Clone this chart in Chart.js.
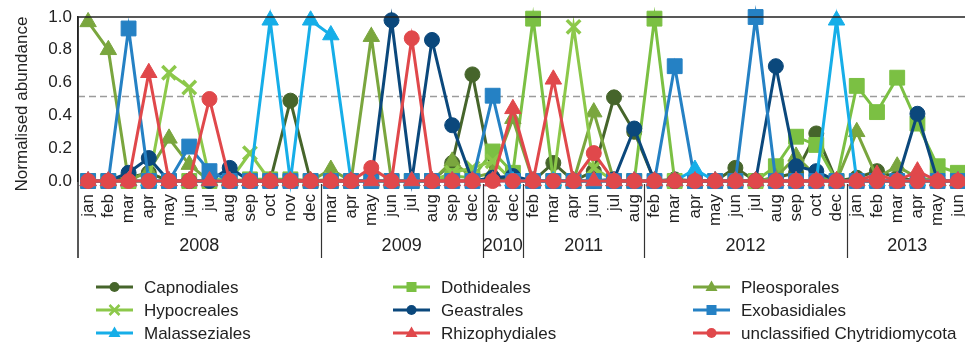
<!DOCTYPE html>
<html>
<head>
<meta charset="utf-8">
<script src="https://cdn.jsdelivr.net/npm/chart.js@4/dist/chart.umd.min.js"></script>
<style>
  html, body { margin: 0; padding: 0; background: #fff; overflow: hidden; }
  #wrap { width: 981px; height: 343px; }
</style>
</head>
<body>
<div id="wrap"><canvas id="c" width="981" height="343"></canvas></div>
<script>
// Sampling months, grouped by year
const MONTHS = [
  'jan','feb','mar','apr','may','jun','jul','aug','sep','oct','nov','dec',
  'mar','apr','may','jun','jul','aug','sep','dec',
  'sep','dec',
  'feb','mar','apr','jun','jul','aug',
  'feb','mar','apr','may','jun','jul','aug','sep','oct','dec',
  'jan','feb','mar','apr','may','jun'
];
const YEARS = ['2008', '2009', '2010', '2011', '2012', '2013'];
const YEAR_COUNTS = [12, 8, 2, 6, 10, 6];

const Y_TICKS = [0, 0.2, 0.4, 0.6, 0.8, 1.0];
const THRESHOLD = 0.515;

// Normalised abundance per order
const capnodiales = [
  0, 0, 0.02, 0.05, 0, 0, 0, 0, 0, 0, 0.49, 0,
  0, 0, 0, 0, 0, 0, 0.11, 0.65,
  0.02, 0,
  0, 0.11, 0, 0.06, 0.51, 0.30,
  0, 0.01, 0, 0, 0.08, 0, 0.02, 0.05, 0.29, 0,
  0.02, 0.06, 0.02, 0, 0, 0
];
const dothideales = [
  0, 0, 0, 0, 0, 0, 0, 0, 0.01, 0.01, 0.01, 0,
  0, 0, 0, 0, 0, 0, 0.03, 0.02,
  0.18, 0.05,
  0.99, 0, 0, 0, 0, 0,
  0.99, 0, 0, 0, 0, 0, 0.09, 0.27, 0.22, 0,
  0.58, 0.42, 0.63, 0.35, 0.09, 0.05
];
const pleosporales = [
  0.97, 0.80, 0, 0.06, 0.26, 0.10, 0, 0, 0, 0, 0.01, 0,
  0.07, 0, 0.88, 0, 0, 0, 0.12, 0.02,
  0.05, 0.38,
  0, 0, 0, 0.42, 0, 0,
  0, 0, 0, 0, 0, 0, 0.02, 0.15, 0.03, 0,
  0.30, 0.02, 0.09, 0.02, 0, 0
];
const hypocreales = [
  0, 0, 0, 0, 0.66, 0.57, 0.02, 0, 0.17, 0, 0, 0,
  0.01, 0, 0, 0, 0, 0, 0.05, 0.08,
  0.12, 0,
  0, 0, 0.94, 0.08, 0, 0,
  0, 0, 0, 0, 0, 0, 0, 0, 0, 0,
  0, 0, 0, 0, 0, 0
];
const geastrales = [
  0, 0, 0.05, 0.14, 0, 0, 0, 0.08, 0, 0, 0, 0,
  0, 0, 0, 0.98, 0, 0.86, 0.34, 0,
  0.02, 0.03,
  0, 0, 0, 0, 0.01, 0.32,
  0, 0, 0, 0, 0, 0, 0.70, 0.09, 0.06, 0,
  0, 0, 0, 0.41, 0, 0
];
const exobasidiales = [
  0, 0, 0.93, 0, 0, 0.21, 0.06, 0, 0, 0, 0, 0,
  0, 0, 0, 0, 0, 0, 0, 0,
  0.52, 0,
  0, 0, 0, 0, 0, 0,
  0, 0.70, 0, 0, 0, 1.0, 0, 0, 0, 0,
  0, 0, 0, 0, 0, 0
];
const malasseziales = [
  0, 0, 0, 0, 0, 0, 0, 0, 0, 0.98, 0, 0.98,
  0.89, 0, 0, 0, 0, 0, 0, 0,
  0, 0,
  0, 0, 0, 0, 0, 0,
  0, 0, 0.07, 0, 0, 0, 0, 0, 0, 0.98,
  0, 0, 0, 0, 0, 0
];
const rhizophydiales = [
  0, 0, 0, 0.66, 0, 0, 0, 0, 0, 0, 0, 0,
  0, 0, 0, 0, 0, 0, 0, 0,
  0, 0.44,
  0, 0.62, 0, 0, 0, 0,
  0, 0, 0, 0, 0, 0, 0, 0, 0, 0,
  0, 0.04, 0, 0.06, 0, 0
];
const unclassifiedChytridiomycota = [
  0, 0, 0, 0, 0, 0, 0.50, 0, 0, 0, 0, 0,
  0, 0, 0.08, 0, 0.87, 0, 0, 0,
  0, 0,
  0, 0, 0, 0.17, 0, 0,
  0, 0, 0, 0, 0, 0, 0, 0, 0, 0,
  0, 0, 0, 0, 0, 0
];

const SERIES = [
  { name: 'Capnodiales', data: capnodiales, color: '#46652b', style: 'circle' },
  { name: 'Dothideales', data: dothideales, color: '#7bc043', style: 'rect' },
  { name: 'Pleosporales', data: pleosporales, color: '#7aa63e', style: 'triangle' },
  { name: 'Hypocreales', data: hypocreales, color: '#8cc84a', style: 'crossRot' },
  { name: 'Geastrales', data: geastrales, color: '#0b487c', style: 'circle' },
  { name: 'Exobasidiales', data: exobasidiales, color: '#2581c4', style: 'rect' },
  { name: 'Malasseziales', data: malasseziales, color: '#16aee8', style: 'triangle' },
  { name: 'Rhizophydiales', data: rhizophydiales, color: '#e0484b', style: 'triangle' },
  { name: 'unclassified Chytridiomycota', data: unclassifiedChytridiomycota, color: '#e0484b', style: 'circle' }
];

const FONT = "'Liberation Sans', Arial, Helvetica, sans-serif";
const INK = '#222';
const RADIUS = { circle: 7.5, rect: 10.5, triangle: 9.5, crossRot: 9.5 };

const datasets = SERIES.map((s, i) => ({
  label: s.name,
  data: s.data,
  borderColor: s.color,
  backgroundColor: s.color,
  borderWidth: 3,
  pointStyle: s.style,
  pointRadius: RADIUS[s.style],
  pointBorderWidth: s.style === 'crossRot' ? 3.5 : 1,
  pointBackgroundColor: s.color,
  pointBorderColor: s.color,
  tension: 0,
  clip: false,
  order: SERIES.length - i
}));

// Small legend marker
function drawMarker(ctx, style, x, y, color) {
  ctx.save();
  ctx.fillStyle = color;
  ctx.strokeStyle = color;
  ctx.beginPath();
  if (style === 'circle') {
    ctx.arc(x, y, 5, 0, Math.PI * 2);
    ctx.fill();
  } else if (style === 'rect') {
    ctx.fillRect(x - 5, y - 5, 10, 10);
  } else if (style === 'triangle') {
    ctx.moveTo(x, y - 6.5);
    ctx.lineTo(x + 6, y + 4);
    ctx.lineTo(x - 6, y + 4);
    ctx.closePath();
    ctx.fill();
  } else if (style === 'crossRot') {
    ctx.lineWidth = 2.5;
    ctx.moveTo(x - 5, y - 5); ctx.lineTo(x + 5, y + 5);
    ctx.moveTo(x + 5, y - 5); ctx.lineTo(x - 5, y + 5);
    ctx.stroke();
  }
  ctx.restore();
}

const decor = {
  id: 'decor',
  beforeDatasetsDraw(chart) {
    const { ctx, chartArea, scales } = chart;
    const y = scales.y.getPixelForValue(THRESHOLD);
    ctx.save();
    ctx.strokeStyle = '#9b9b9b';
    ctx.lineWidth = 1.5;
    ctx.setLineDash([7, 4]);
    ctx.beginPath();
    ctx.moveTo(chartArea.left, y);
    ctx.lineTo(chart.width, y);
    ctx.stroke();
    ctx.restore();
  },
  afterDraw(chart) {
    const { ctx, chartArea, scales } = chart;
    const x = scales.x;
    ctx.save();
    // frame top line and extended left axis
    ctx.strokeStyle = INK;
    ctx.lineWidth = 1.5;
    ctx.beginPath();
    ctx.moveTo(chartArea.left, chartArea.top);
    ctx.lineTo(chart.width, chartArea.top);
    ctx.moveTo(chartArea.left, chartArea.top);
    ctx.lineTo(chartArea.left, 258);
    ctx.stroke();

    // axis title
    ctx.font = '17px ' + FONT;
    ctx.fillStyle = INK;
    ctx.textAlign = 'center';
    ctx.textBaseline = 'middle';
    ctx.save();
    ctx.translate(22, 104);
    ctx.rotate(-Math.PI / 2);
    ctx.fillText('Normalised abundance', 0, 0);
    ctx.restore();

    // year groups
    ctx.font = '18px ' + FONT;
    let start = 0;
    YEARS.forEach((yr, g) => {
      const end = start + YEAR_COUNTS[g] - 1;
      const cx = (x.getPixelForValue(start) + x.getPixelForValue(end)) / 2;
      ctx.fillText(yr, cx, 246);
      if (g < YEARS.length - 1) {
        const sx = Math.round((x.getPixelForValue(end) + x.getPixelForValue(end + 1)) / 2) + 0.5;
        ctx.lineWidth = 1.2;
        ctx.strokeStyle = '#333';
        ctx.beginPath();
        ctx.moveTo(sx, 184);
        ctx.lineTo(sx, 258);
        ctx.stroke();
      }
      start = end + 1;
    });

    // legend in three columns
    const COLS = [96, 393, 693];
    const ROWS = [287, 310, 333];
    ctx.font = '17px ' + FONT;
    ctx.textAlign = 'left';
    SERIES.forEach((s, i) => {
      const lx = COLS[i % 3];
      const ly = ROWS[Math.floor(i / 3)];
      ctx.strokeStyle = s.color;
      ctx.lineWidth = 3;
      ctx.beginPath();
      ctx.moveTo(lx, ly);
      ctx.lineTo(lx + 37, ly);
      ctx.stroke();
      drawMarker(ctx, s.style, lx + 18.5, ly, s.color);
      ctx.fillStyle = INK;
      ctx.fillText(s.name, lx + 48, ly + 1);
    });
    ctx.restore();
  }
};

new Chart(document.getElementById('c'), {
  type: 'line',
  data: { labels: MONTHS, datasets },
  options: {
    responsive: false,
    animation: false,
    layout: { padding: { top: 17, right: 1, left: 0, bottom: 0 } },
    plugins: { legend: { display: false }, tooltip: { enabled: false } },
    scales: {
      x: {
        offset: true,
        grid: { display: false, drawTicks: false },
        border: { display: false },
        ticks: {
          autoSkip: false, minRotation: 90, maxRotation: 90, padding: 13,
          color: INK, font: { size: 17, family: FONT }
        },
        afterFit(s) { s.height = 162; s.paddingLeft = 0; s.paddingRight = 0; }
      },
      y: {
        min: 0, max: 1,
        afterBuildTicks(s) { s.ticks = Y_TICKS.map(v => ({ value: v })); },
        ticks: {
          padding: 6, color: INK, font: { size: 17, family: FONT },
          callback: v => Number(v).toFixed(1)
        },
        grid: { display: false, drawTicks: false },
        border: { display: true, color: INK, width: 1.5 },
        afterFit(s) { s.width = 78; }
      }
    }
  },
  plugins: [decor]
});
</script>
</body>
</html>
